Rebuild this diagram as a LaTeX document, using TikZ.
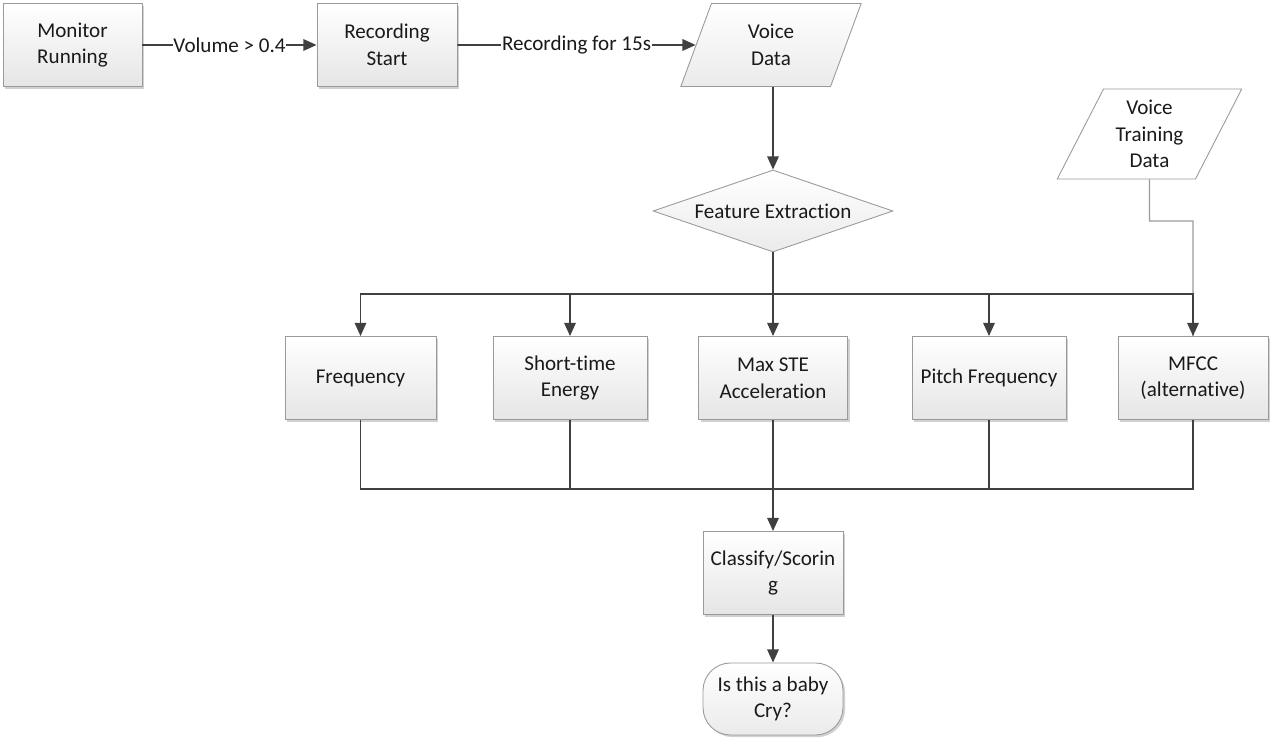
\documentclass[tikz,border=0pt]{standalone}
\usepackage{fontspec}
\setmainfont{Carlito}[Ligatures=NoCommon]
\usepackage{xcolor}
\usetikzlibrary{shapes.geometric,arrows.meta,positioning,calc,shadows}

\definecolor{linegray}{HTML}{404040}
\definecolor{edgegray}{HTML}{9A9A9A}
\definecolor{textgray}{HTML}{1A1A1A}

\begin{document}
\begin{tikzpicture}[x=0.02cm, y=-0.02cm, font=\fontsize{12}{15.2}\selectfont, text=textgray,
  box/.style={rectangle, draw=edgegray, line width=0.5pt, top color=white, bottom color=black!10,
    minimum width=#1, minimum height=1.66cm, inner sep=0pt, align=center,
    drop shadow={shadow xshift=1.2pt, shadow yshift=-1.2pt, opacity=0.18, fill=black}},
  box/.default=2.8cm,
  data/.style={trapezium, trapezium stretches=true, draw=edgegray, line width=0.5pt,
    inner sep=0pt, align=center},
  arr/.style={-{Triangle[length=7.5pt, width=6.5pt]}, draw=linegray, line width=1.1pt},
  bus/.style={draw=linegray, line width=1.1pt},
  feed/.style={draw=edgegray, line width=0.6pt},
  lbl/.style={fill=white, inner sep=0.5pt}]
  \useasboundingbox (0,0) rectangle (1279,742);
  % Trigger
  \node[box=2.78cm] (mon) at (72.5,45)  {Monitor\\Running};
  \node[box]        (rec) at (387,45)   {Recording\\Start};
  % Input data
  \node[data, top color=white, bottom color=black!8, trapezium left angle=73.9, trapezium right angle=106.1,
        minimum width=3.62cm, minimum height=1.66cm] (vd) at (771,45) {Voice\\Data};
  \node[data, fill=white, trapezium left angle=63.4, trapezium right angle=116.6,
        minimum width=3.7cm, minimum height=1.8cm] (vtd) at (1149.5,134) {Voice\\Training\\Data};
  % Extraction
  \node[diamond, aspect=2.9, draw=edgegray, line width=0.5pt, top color=white, bottom color=black!8,
        minimum width=4.8cm, minimum height=1.64cm, inner sep=0pt] (fe) at (773,211) {Feature Extraction};
  % Features
  \node[box=3.02cm] (frq)  at (360.5,378) {Frequency};
  \node[box=3.08cm] (ste)  at (570,378)   {Short-time\\Energy};
  \node[box=2.98cm] (acc)  at (773,378)   {Max STE\\Acceleration};
  \node[box=3.08cm] (pit)  at (989,378)   {Pitch Frequency};
  \node[box=3cm]    (mfcc) at (1193,378)  {MFCC\\(alternative)};
  % Result
  \node[box] (cls) at (773,573) {Classify/Scorin\\g};
  \node[rectangle, rounded corners=0.55cm, draw=edgegray, line width=0.5pt, top color=white,
        bottom color=black!8, minimum width=2.8cm, minimum height=1.44cm, inner sep=0pt, align=center,
        drop shadow={shadow xshift=1.2pt, shadow yshift=-1.2pt, opacity=0.18, fill=black}]
        (cry) at (773,699) {Is this a baby\\Cry?};
  % Bus points
  \coordinate (top)   at (773,294);
  \coordinate (bot)   at (773,489);
  \coordinate (vbend) at (1149.5,221);
  % Arrows
  \draw[arr] (mon) -- node[lbl]{Volume > 0.4} (rec);
  \draw[arr] (rec.east) -- node[lbl]{Recording for 15s} (vd.west);
  \draw[arr] (vd.south -| fe.north) -- (fe.north);
  \draw[feed] (vtd.south) -- (vbend) -| (mfcc.north);
  \draw[bus] (fe.south) -- (top);
  \draw[arr] (top) -| (frq.north);
  \draw[arr] (top) -| (ste.north);
  \draw[arr] (top) -- (acc.north);
  \draw[arr] (top) -| (pit.north);
  \draw[arr] (top) -| (mfcc.north);
  \draw[bus] (frq.south) |- (bot);
  \draw[bus] (ste.south) |- (bot);
  \draw[bus] (pit.south) |- (bot);
  \draw[bus] (mfcc.south) |- (bot);
  \draw[arr] (acc.south) -- (cls.north);
  \draw[arr] (cls) -- (cry);
\end{tikzpicture}
\end{document}
